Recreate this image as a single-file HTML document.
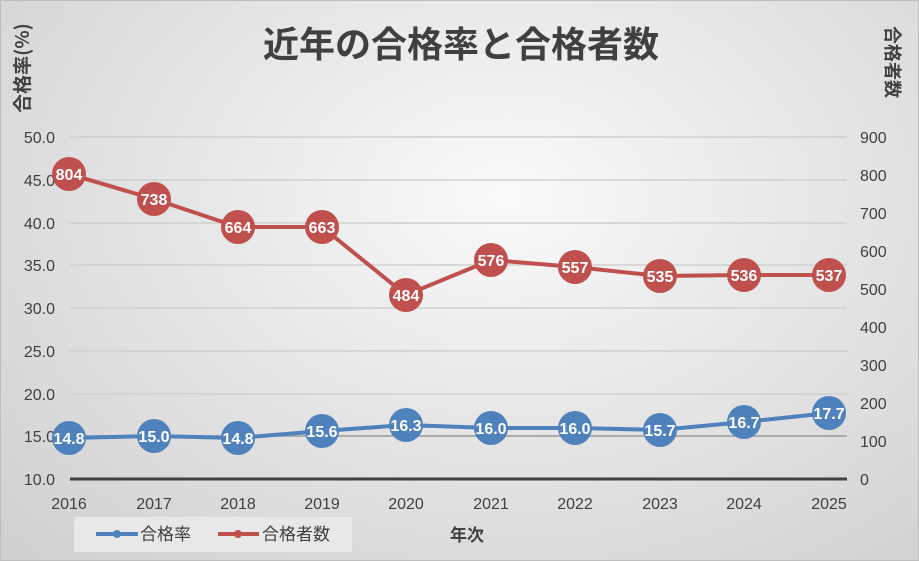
<!DOCTYPE html>
<html><head><meta charset="utf-8"><style>
html,body{margin:0;padding:0}
body{width:919px;height:561px;overflow:hidden;font-family:"Liberation Sans","Noto Sans CJK JP",sans-serif}
.c{position:absolute;left:0;top:0;width:917px;height:559px;border:1px solid #bdbdbd;background:radial-gradient(ellipse at 55% 35%,#fafafa 0%,#e6e6e6 45%,#cfcfcf 100%)}
</style></head><body><div class="c">
<svg width="919" height="561" style="position:absolute;left:-1px;top:-1px" font-family="Liberation Sans, Noto Sans CJK JP, sans-serif">
<text x="461" y="57" font-size="36" font-weight="bold" fill="#404040" text-anchor="middle" font-family="Noto Sans CJK JP, sans-serif">近年の合格率と合格者数</text>
<text transform="translate(29,68) rotate(-90)" font-size="19" font-weight="bold" fill="#404040" text-anchor="middle" font-family="Noto Sans CJK JP, sans-serif">合格率(%)</text>
<text transform="translate(886,62) rotate(90)" font-size="18" font-weight="bold" fill="#404040" text-anchor="middle" font-family="Noto Sans CJK JP, sans-serif">合格者数</text>
<g stroke="#d0d0d0" stroke-width="1.5">
<line x1="70" x2="847" y1="137" y2="137"/><line x1="70" x2="847" y1="180" y2="180"/><line x1="70" x2="847" y1="223" y2="223"/><line x1="70" x2="847" y1="265" y2="265"/><line x1="70" x2="847" y1="308" y2="308"/><line x1="70" x2="847" y1="351" y2="351"/><line x1="70" x2="847" y1="394" y2="394"/></g>
<line x1="70" x2="847" y1="436" y2="436" stroke="#999" stroke-width="1.5"/>
<line x1="70" x2="847" y1="479" y2="479" stroke="#404040" stroke-width="3"/>
<g font-size="16" fill="#404040" text-anchor="end">
<text x="55" y="143">50.0</text><text x="55" y="186">45.0</text><text x="55" y="229">40.0</text><text x="55" y="271">35.0</text><text x="55" y="314">30.0</text><text x="55" y="357">25.0</text><text x="55" y="400">20.0</text><text x="55" y="442">15.0</text><text x="55" y="485">10.0</text></g>
<g font-size="16" fill="#404040" text-anchor="start">
<text x="860" y="143">900</text><text x="860" y="181">800</text><text x="860" y="219">700</text><text x="860" y="257">600</text><text x="860" y="295">500</text><text x="860" y="333">400</text><text x="860" y="371">300</text><text x="860" y="409">200</text><text x="860" y="447">100</text><text x="860" y="485">0</text></g>
<g font-size="16" fill="#404040" text-anchor="middle">
<text x="69" y="509">2016</text><text x="154" y="509">2017</text><text x="238" y="509">2018</text><text x="322" y="509">2019</text><text x="406" y="509">2020</text><text x="491" y="509">2021</text><text x="575" y="509">2022</text><text x="660" y="509">2023</text><text x="744" y="509">2024</text><text x="829" y="509">2025</text></g>
<polyline fill="none" stroke="#c0504d" stroke-width="4" points="69,174 154,199 238,227 322,227 406,295 491,260 575,267 660,276 744,275 829,275"/>
<g fill="#c0504d"><circle cx="69" cy="174" r="17"/><circle cx="154" cy="199" r="17"/><circle cx="238" cy="227" r="17"/><circle cx="322" cy="227" r="17"/><circle cx="406" cy="295" r="17"/><circle cx="491" cy="260" r="17"/><circle cx="575" cy="267" r="17"/><circle cx="660" cy="276" r="17"/><circle cx="744" cy="275" r="17"/><circle cx="829" cy="275" r="17"/></g>
<g font-size="16" font-weight="bold" fill="#fff" text-anchor="middle">
<text x="69" y="180">804</text><text x="154" y="205">738</text><text x="238" y="233">664</text><text x="322" y="233">663</text><text x="406" y="301">484</text><text x="491" y="266">576</text><text x="575" y="273">557</text><text x="660" y="282">535</text><text x="744" y="281">536</text><text x="829" y="281">537</text></g>
<polyline fill="none" stroke="#4f81bd" stroke-width="4" points="69,438 154,436 238,438 322,431 406,425 491,428 575,428 660,430 744,422 829,413"/>
<g fill="#4f81bd"><circle cx="69" cy="438" r="17"/><circle cx="154" cy="436" r="17"/><circle cx="238" cy="438" r="17"/><circle cx="322" cy="431" r="17"/><circle cx="406" cy="425" r="17"/><circle cx="491" cy="428" r="17"/><circle cx="575" cy="428" r="17"/><circle cx="660" cy="430" r="17"/><circle cx="744" cy="422" r="17"/><circle cx="829" cy="413" r="17"/></g>
<g font-size="16" font-weight="bold" fill="#fff" text-anchor="middle">
<text x="69" y="444">14.8</text><text x="154" y="442">15.0</text><text x="238" y="444">14.8</text><text x="322" y="437">15.6</text><text x="406" y="431">16.3</text><text x="491" y="434">16.0</text><text x="575" y="434">16.0</text><text x="660" y="436">15.7</text><text x="744" y="428">16.7</text><text x="829" y="419">17.7</text></g>
<rect x="74" y="517" width="278" height="35" fill="#e8e8e8"/>
<line x1="96" x2="138" y1="534" y2="534" stroke="#4f81bd" stroke-width="4"/><circle cx="117" cy="534" r="4" fill="#4f81bd"/>
<line x1="218" x2="259" y1="534" y2="534" stroke="#c0504d" stroke-width="4"/><circle cx="238" cy="534" r="4" fill="#c0504d"/>
<g font-size="17" fill="#404040" font-family="Noto Sans CJK JP, sans-serif"><text x="140" y="540">合格率</text><text x="262" y="540">合格者数</text><text x="450" y="541" font-weight="bold">年次</text></g>
</svg></div></body></html>
